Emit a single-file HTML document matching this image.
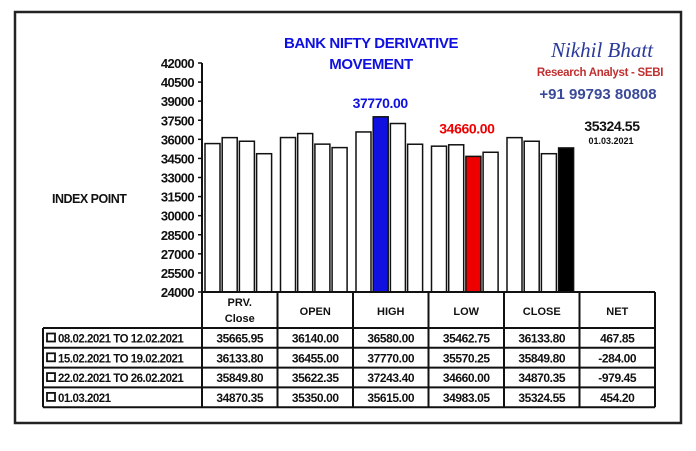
<!DOCTYPE html>
<html><head><meta charset="utf-8"><style>
body{margin:0;background:#fff;width:696px;height:446px;overflow:hidden;font-family:"Liberation Sans",sans-serif}
</style></head><body>
<svg width="696" height="446" xmlns="http://www.w3.org/2000/svg" font-family="Liberation Sans, sans-serif">
<rect x="15" y="12" width="666" height="411" fill="none" stroke="#222" stroke-width="2.5"/>
<text x="371" y="48" text-anchor="middle" font-size="15" font-weight="bold" fill="#1010e0" letter-spacing="-0.4">BANK NIFTY DERIVATIVE</text>
<text x="371" y="69" text-anchor="middle" font-size="15" font-weight="bold" fill="#1010e0" letter-spacing="-0.4">MOVEMENT</text>
<text x="602" y="57" text-anchor="middle" font-size="21" font-style="italic" font-family="Liberation Serif, serif" fill="#2a3a9a">Nikhil Bhatt</text>
<text x="600" y="76" text-anchor="middle" font-size="11.5" font-weight="bold" fill="#c03030" letter-spacing="-0.3">Research Analyst - SEBI</text>
<text x="598" y="99" text-anchor="middle" font-size="15" font-weight="bold" fill="#3a4a9a">+91 99793 80808</text>
<text x="52" y="203" font-size="12.5" font-weight="bold" fill="#111" letter-spacing="-0.5">INDEX POINT</text>
<g id="axis"></g><g id="bars"></g><g id="labels"></g><g id="table"></g>
</svg>
<script>
const categories=["PRV. Close","OPEN","HIGH","LOW","CLOSE","NET"];
const rowLabels=["08.02.2021 TO 12.02.2021","15.02.2021 TO 19.02.2021","22.02.2021 TO 26.02.2021","01.03.2021"];
const prvClose=[35665.95,36133.80,35849.80,34870.35];
const openV=[36140.00,36455.00,35622.35,35350.00];
const highV=[36580.00,37770.00,37243.40,35615.00];
const lowV=[35462.75,35570.25,34660.00,34983.05];
const closeV=[36133.80,35849.80,34870.35,35324.55];
const netV=[467.85,-284.00,-979.45,454.20];
const yTicks=[24000,25500,27000,28500,30000,31500,33000,34500,36000,37500,39000,40500,42000];
const NS="http://www.w3.org/2000/svg";
const x0=202,colW=75.5,yTop=63,yBot=292,yMin=24000,yMax=42000;
const y=v=>yBot-(v-yMin)/(yMax-yMin)*(yBot-yTop);
function mk(tag,attrs,parent,txt){const e=document.createElementNS(NS,tag);for(const k in attrs)e.setAttribute(k,attrs[k]);if(txt!==undefined)e.textContent=txt;document.getElementById(parent).appendChild(e);return e;}
let ax=mk("line",{x1:x0,y1:yTop,x2:x0,y2:yBot,stroke:"#111","stroke-width":2},"axis");


yTicks.forEach(t=>{
 let l=mk("line",{x1:x0-4,y1:y(t),x2:x0,y2:y(t),stroke:"#111","stroke-width":1.5},"axis");
 
 
 let tx=mk("text",{x:x0-8,y:y(t)+5,"text-anchor":"end","font-size":13,"font-weight":"bold",fill:"#111","letter-spacing":"-0.6"},"axis",String(t));
 
 
});
const series=[prvClose,openV,highV,lowV,closeV];
series.forEach((s,ci)=>{
 s.forEach((v,ri)=>{
  let fill="#fff";
  if(ci===2&&ri===1)fill="#1010e0";
  if(ci===3&&ri===2)fill="#ee0000";
  if(ci===4&&ri===3)fill="#000";
  const bx=x0+ci*colW+3+ri*17.2;
  let r=mk("rect",{x:bx,y:y(v),width:15,height:yBot-y(v),fill:fill,stroke:"#111","stroke-width":1.5},"bars");
  
  
 });
});
const lbl=[[x0+2*colW+3+1*17.2+7,y(highV[1])-9,highV[1].toFixed(2),"#1010e0","high-max-label"],
[x0+3*colW+3+2*17.2+1,y(lowV[2])-23,lowV[2].toFixed(2),"#ee0000","low-min-label"],
[612,y(closeV[3])-17,closeV[3].toFixed(2),"#111","close-latest-label"]];
lbl.forEach(a=>{let t=mk("text",{x:a[0],y:a[1],"text-anchor":"middle","font-size":14,"font-weight":"bold",fill:a[3],"letter-spacing":"-0.4"},"labels",a[2]);
 
 });
let dt=mk("text",{x:611,y:y(closeV[3])-4,"text-anchor":"middle","font-size":9,"font-weight":"bold",fill:"#111"},"labels","01.03.2021");


const hTop=292,hBot=328,rowH=19.8,tLeft=43,tRight=x0+6*colW;
const tb=mk("g",{stroke:"#111","stroke-width":2,fill:"none"},"table");
function ln(x1,y1,x2,y2){const e=document.createElementNS(NS,"line");e.setAttribute("x1",x1);e.setAttribute("y1",y1);e.setAttribute("x2",x2);e.setAttribute("y2",y2);tb.appendChild(e);}
ln(x0,hTop,tRight,hTop);
for(let i=0;i<=6;i++)ln(x0+i*colW,hTop,x0+i*colW,hBot+4*rowH);
ln(tLeft,hBot,tRight,hBot);
for(let r=1;r<=4;r++)ln(tLeft,hBot+r*rowH,tRight,hBot+r*rowH);
ln(tLeft,hBot,tLeft,hBot+4*rowH);
categories.forEach((c,i)=>{
 const cx=x0+i*colW+colW/2;
 if(c==="PRV. Close"){
  let a=mk("text",{x:cx,y:306,"text-anchor":"middle","font-size":11,"font-weight":"bold",fill:"#111"},"table","PRV.");
  
  
  let b=mk("text",{x:cx,y:322,"text-anchor":"middle","font-size":11,"font-weight":"bold",fill:"#111"},"table","Close");
  
  
 }else{
  let a=mk("text",{x:cx,y:315,"text-anchor":"middle","font-size":11,"font-weight":"bold",fill:"#111"},"table",c);
  
  
 }
});
const cols=[prvClose,openV,highV,lowV,closeV,netV];
rowLabels.forEach((rl,ri)=>{
 const ty=hBot+ri*rowH+14.5;
 let sq=mk("rect",{x:tLeft+4,y:ty-9,width:8,height:8,fill:"#fff",stroke:"#111","stroke-width":1.8},"table");
 
 
 let t=mk("text",{x:tLeft+15,y:ty,"font-size":11.5,"font-weight":"bold",fill:"#111","letter-spacing":"-0.5"},"table",rl);
 
 
 cols.forEach((c,ci)=>{
  let v=mk("text",{x:x0+ci*colW+colW/2,y:ty,"text-anchor":"middle","font-size":12,"font-weight":"bold",fill:"#111","letter-spacing":"-0.4"},"table",c[ri].toFixed(2));
  
  
 });
});
</script>
</body></html>
